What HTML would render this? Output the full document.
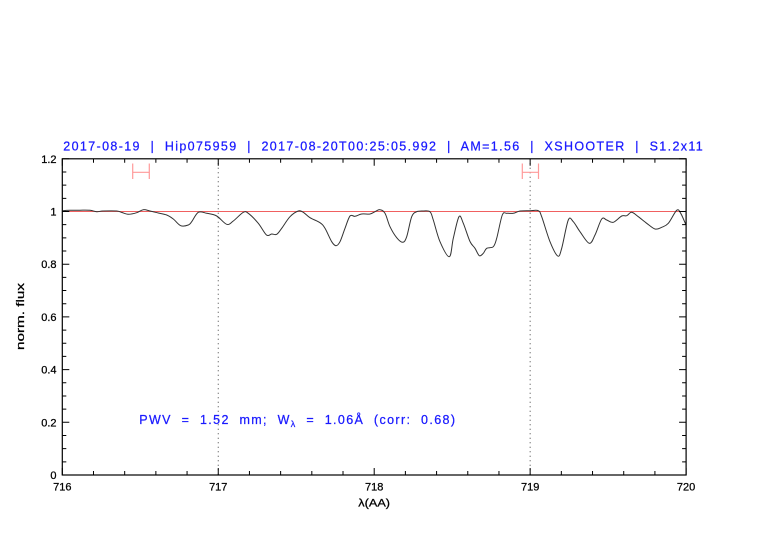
<!DOCTYPE html>
<html>
<head>
<meta charset="utf-8">
<style>
html,body{margin:0;padding:0;background:#fff;}
svg{display:block;}
text{font-family:"Liberation Sans",sans-serif;}
</style>
</head>
<body>
<svg width="782" height="542" viewBox="0 0 782 542" xmlns="http://www.w3.org/2000/svg">
<rect width="782" height="542" fill="#fff"/>

<!-- title -->
<text x="63.3" y="150.3" font-size="12.5" fill="#1a1aff" stroke="#1a1aff" stroke-width="0.25" textLength="639.4" lengthAdjust="spacing" xml:space="preserve">2017-08-19  |  Hip075959  |  2017-08-20T00:25:05.992  |  AM=1.56  |  XSHOOTER  |  S1.2x11</text>

<!-- reference line at 1 -->
<line x1="62.3" y1="211.5" x2="686.1" y2="211.5" stroke="#f06060" stroke-width="1"/>

<!-- dotted verticals -->
<line x1="218.25" y1="158.8" x2="218.25" y2="475" stroke="#444" stroke-width="1" stroke-dasharray="1,3.5"/>
<line x1="530.15" y1="158.8" x2="530.15" y2="475" stroke="#444" stroke-width="1" stroke-dasharray="1,3.5"/>

<!-- error bars -->
<g stroke="#ff9a9a" stroke-width="1.2" fill="none">
<line x1="132.7" y1="172.3" x2="149.3" y2="172.3"/>
<line x1="132.7" y1="163.5" x2="132.7" y2="179"/>
<line x1="149.3" y1="163.5" x2="149.3" y2="179"/>
<line x1="522.3" y1="172.3" x2="538.5" y2="172.3"/>
<line x1="522.3" y1="163.5" x2="522.3" y2="179"/>
<line x1="538.5" y1="163.5" x2="538.5" y2="179"/>
</g>

<!-- spectrum (smooth) -->
<path fill="none" stroke="#333" stroke-width="1" d="M62.7,210.7 C63.9,210.6 67.12,210.38 70,210.3
S76.67,210.2 80,210.2 S87.22,210.05 90,210.3 S94.53,211.58 96.7,211.7 S99.67,211.12 103,211
S113.53,210.75 116.7,211 S120.07,211.95 122,212.5 S125.85,214.27 128.3,214.3 S134.2,213.47 136.7,212.7
S141.08,209.98 143.3,209.7 S147.5,210.45 150,211 S155.52,212.33 158.3,213 S164.2,214 166.7,215
S170.97,217.22 173.3,219 S178.2,224.7 180.7,225.7 S186.47,225.67 188.3,225 S190.03,223.82 191.7,221.7
S195.8,213.7 198.3,212.3 S203.63,212.68 206.7,213.3 S213.37,214.17 216.7,216 S223.93,223.47 226.7,224.3
S230.53,223 233.3,221 S240.8,213.58 243.3,212.3 S245.8,211.47 248.3,213.3 S255.27,219.68 258.3,223.3
S264.27,233.22 266.5,235 S270,234.12 271.7,234 S275.03,235.25 276.7,234.3 S279.48,231.23 281.7,228.3
S287.23,219.58 290,216.7 S296.08,211.73 298.3,211 S301.35,211.18 303.3,212.3 S307.22,215.97 310,217.7
S317.5,220.93 320,222.7 S323.05,225.13 325,228.3 S329.87,238.8 331.7,241.7 S334.62,245.7 336,245.7
S338.5,244.6 340,241.7 S343.33,232.58 345,228.3 S348.33,218 350,216 S353.05,216.63 355,216.3
S359.2,214.38 361.7,214 S367.78,214.38 370,214 S373.33,212.42 375,211.7 S378.33,209.43 380,209.7
S383.33,210.47 385,213.3 S388.05,222.63 390,226.7 S394.58,235.1 396.7,237.7 S401.03,242.47 402.7,242.3
S405.2,240.97 406.7,236.7 S410.03,220.87 411.7,216.7 S414.77,212.65 416.7,211.7 S421.08,211 423.3,211
S428.33,210.2 430,211.7 S431.63,215 433.3,220 S437.33,235.58 440,241.7 S447.08,257.27 449.3,256.7
S451.68,244.97 453.3,238.3 S457.33,219.2 459,216.7 S461.47,219.17 463.3,223.3 S468.05,237.33 470,241.5
S473.45,245.93 475,248.3 S477.92,254.87 479.3,255.7 S482.07,254.53 483.3,253.3 S485.03,249.4 486.7,248.3
S491.63,248.37 493.3,246.7 S495.2,243.58 496.7,238.3 S500.63,219.17 502.3,215 S504.87,213.58 506.7,213.3
S511.08,213.68 513.3,213.3 S517.22,211.43 520,211 S526.95,210.75 530,210.7 S536.35,209.7 538.3,210.7
S539.75,211.53 541.7,216.7 S547.33,235.15 550,241.7 S555.75,254.9 557.7,256 S559.93,254.3 561.7,248.3
S566.37,224.43 568.3,220 S571.35,219.75 573.3,221.7 S577.33,228.1 580,231.7 S586.8,242.75 589.3,243.3
S592.93,239.05 595,235 S599.75,221.5 601.7,219 S604.77,219.45 606.7,220 S610.8,222.97 613.3,222.3
S619.47,217.1 621.7,216 S625.03,216.32 626.7,215.7 S629.77,212.13 631.7,212.3 S635.8,214.87 638.3,216.7
S643.92,221.25 646.7,223.3 S652.5,228.33 655,229 S659.48,228.25 661.7,227.3 S665.8,226.13 668.3,223.3
S674.63,211.97 676.7,210.3 S679.15,210.85 680.7,213.3 S685.12,223.05 686,225"/>

<!-- frame -->
<rect x="62.3" y="158.8" width="623.8" height="316.2" fill="none" stroke="#000" stroke-width="1.2"/>

<!-- ticks -->
<g stroke="#000" stroke-width="1">
<path d="M62.3,475V468 M93.49,475V471 M124.68,475V471 M155.87,475V471 M187.06,475V471 M218.25,475V468 M249.44,475V471 M280.63,475V471 M311.82,475V471 M343.01,475V471 M374.2,475V468 M405.39,475V471 M436.58,475V471 M467.77,475V471 M498.96,475V471 M530.15,475V468 M561.34,475V471 M592.53,475V471 M623.72,475V471 M654.91,475V471 M686.1,475V468"/>
<path d="M62.3,158.8V165.8 M93.49,158.8V162.8 M124.68,158.8V162.8 M155.87,158.8V162.8 M187.06,158.8V162.8 M218.25,158.8V165.8 M249.44,158.8V162.8 M280.63,158.8V162.8 M311.82,158.8V162.8 M343.01,158.8V162.8 M374.2,158.8V165.8 M405.39,158.8V162.8 M436.58,158.8V162.8 M467.77,158.8V162.8 M498.96,158.8V162.8 M530.15,158.8V165.8 M561.34,158.8V162.8 M592.53,158.8V162.8 M623.72,158.8V162.8 M654.91,158.8V162.8 M686.1,158.8V165.8"/>
<path d="M62.3,475H69.3 M62.3,461.83H66.3 M62.3,448.65H66.3 M62.3,435.48H66.3 M62.3,422.3H69.3 M62.3,409.13H66.3 M62.3,395.95H66.3 M62.3,382.78H66.3 M62.3,369.6H69.3 M62.3,356.43H66.3 M62.3,343.25H66.3 M62.3,330.08H66.3 M62.3,316.9H69.3 M62.3,303.73H66.3 M62.3,290.55H66.3 M62.3,277.38H66.3 M62.3,264.2H69.3 M62.3,251.03H66.3 M62.3,237.85H66.3 M62.3,224.68H66.3 M62.3,211.5H69.3 M62.3,198.33H66.3 M62.3,185.15H66.3 M62.3,171.98H66.3 M62.3,158.8H69.3"/>
<path d="M686.1,475H679.1 M686.1,461.83H682.1 M686.1,448.65H682.1 M686.1,435.48H682.1 M686.1,422.3H679.1 M686.1,409.13H682.1 M686.1,395.95H682.1 M686.1,382.78H682.1 M686.1,369.6H679.1 M686.1,356.43H682.1 M686.1,343.25H682.1 M686.1,330.08H682.1 M686.1,316.9H679.1 M686.1,303.73H682.1 M686.1,290.55H682.1 M686.1,277.38H682.1 M686.1,264.2H679.1 M686.1,251.03H682.1 M686.1,237.85H682.1 M686.1,224.68H682.1 M686.1,211.5H679.1 M686.1,198.33H682.1 M686.1,185.15H682.1 M686.1,171.98H682.1 M686.1,158.8H679.1"/>
</g>

<!-- y tick labels -->
<g font-size="11" fill="#000" stroke="#000" stroke-width="0.25" text-anchor="end">
<text x="56.5" y="479">0</text>
<text x="56.5" y="426.3">0.2</text>
<text x="56.5" y="373.6">0.4</text>
<text x="56.5" y="320.9">0.6</text>
<text x="56.5" y="268.2">0.8</text>
<text x="56.5" y="215.5">1</text>
<text x="56.5" y="162.8">1.2</text>
</g>

<!-- x tick labels -->
<g font-size="11" fill="#000" stroke="#000" stroke-width="0.25" text-anchor="middle">
<text x="62.3" y="490.5">716</text>
<text x="218.25" y="490.5">717</text>
<text x="374.2" y="490.5">718</text>
<text x="530.15" y="490.5">719</text>
<text x="686.1" y="490.5">720</text>
</g>

<!-- axis labels -->
<text x="358.3" y="506.5" font-size="11" fill="#000" stroke="#000" stroke-width="0.25" textLength="31.7" lengthAdjust="spacingAndGlyphs">λ(AA)</text>
<text transform="translate(24,350) rotate(-90)" x="0" y="0" font-size="11" fill="#000" stroke="#000" stroke-width="0.25" textLength="67" lengthAdjust="spacingAndGlyphs">norm. flux</text>

<!-- annotation -->
<text x="139.3" y="424" font-size="12.5" fill="#1a1aff" stroke="#1a1aff" stroke-width="0.25" textLength="315.7" lengthAdjust="spacing" xml:space="preserve">PWV  =  1.52  mm;  W<tspan dy="3" font-size="9">λ</tspan><tspan dy="-3">  =  1.06Å  (corr:  0.68)</tspan></text>
</svg>
</body>
</html>
